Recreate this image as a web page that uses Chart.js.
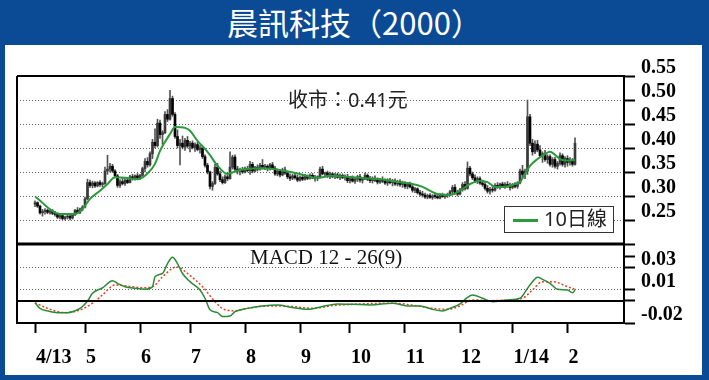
<!DOCTYPE html>
<html>
<head>
<meta charset="utf-8">
<script src="https://cdn.jsdelivr.net/npm/chart.js@4"></script>
<style>
  html, body { margin: 0; padding: 0; }
  body { width: 709px; height: 380px; background: #0b4a94; position: relative; overflow: hidden; font-family: 'Noto Sans', 'Noto Sans CJK TC', sans-serif; }
  #title { position: absolute; left: 0; top: 0; width: 709px; height: 45px; line-height: 44px; text-align: center; color: #fff; font-size: 31px; font-family: 'Noto Sans CJK TC', sans-serif; }
  #panel { position: absolute; left: 5px; top: 45px; width: 697px; height: 330px; background: #fff; }
  #chart { position: absolute; left: 0; top: 0; }
  #closeNote { position: absolute; left: 288px; top: 90px; font-size: 20px; line-height: 1; color: #222; }
  #macdNote { position: absolute; left: 250px; top: 247px; font-family: 'Liberation Serif', serif; font-size: 21px; line-height: 1; color: #111; }
  #legend { position: absolute; left: 504px; top: 206px; width: 108px; height: 25px; border: 1px solid #333; background: #fff; }
  #legend .sw { position: absolute; left: 8px; top: 12px; width: 25px; height: 3px; background: #2a9a3a; }
  #legend .tx { position: absolute; left: 39px; top: 2px; font-size: 20px; line-height: 1; color: #222; }
</style>
</head>
<body>
<div id="title">晨訊科技（2000）</div>
<div id="panel"></div>
<canvas id="chart" width="709" height="380"></canvas>
<div id="closeNote">收市：0.41元</div>
<div id="macdNote">MACD 12 - 26(9)</div>
<div id="legend"><div class="sw"></div><div class="tx">10日線</div></div>
<script>
// daily candles, trading day index 0 = early April 2013
const opens = [
  .283,.286,.279,.265,.268,.270,.266,.269,.264,.262,
  .256,.259,.253,.256,.258,.254,.261,.270,.266,.273,
  .277,.294,.328,.322,.327,.321,.328,.324,.326,.352,
  .356,.362,.352,.342,.322,.330,.326,.333,.328,.340,
  .336,.342,.338,.343,.357,.372,.365,.388,.412,.405,
  .452,.428,.432,.470,.460,.503,.470,.424,.405,.410,
  .402,.416,.404,.410,.401,.407,.397,.400,.382,.364,
  .350,.320,.326,.360,.346,.334,.328,.340,.336,.360,
  .381,.356,.352,.355,.350,.357,.353,.366,.352,.360,
  .356,.364,.360,.362,.357,.365,.358,.346,.352,.344,
  .354,.348,.340,.337,.342,.338,.333,.339,.335,.341,
  .337,.343,.338,.336,.340,.356,.346,.348,.341,.346,
  .340,.344,.339,.343,.338,.341,.332,.336,.331,.335,
  .340,.333,.336,.343,.335,.332,.337,.333,.329,.334,
  .331,.327,.333,.328,.331,.325,.330,.324,.327,.320,
  .325,.319,.312,.315,.307,.304,.302,.298,.301,.297,
  .300,.299,.296,.302,.299,.301,.303,.309,.318,.307,
  .304,.313,.324,.316,.358,.346,.338,.332,.336,.327,
  .324,.316,.310,.314,.312,.322,.320,.325,.321,.324,
  .322,.318,.323,.320,.327,.352,.345,.352,.465,.410,
  .392,.408,.396,.384,.388,.376,.382,.366,.376,.362,
  .368,.384,.366,.378,.370,.374,.366
];
const highs = [
  .290,.288,.281,.272,.274,.273,.272,.272,.268,.265,
  .262,.261,.258,.262,.260,.263,.272,.276,.275,.280,
  .298,.335,.333,.331,.330,.330,.332,.329,.360,.385,
  .368,.366,.355,.345,.334,.338,.336,.337,.343,.345,
  .344,.347,.345,.360,.378,.380,.392,.418,.440,.460,
  .458,.436,.476,.480,.520,.508,.474,.438,.418,.425,
  .420,.424,.414,.415,.411,.412,.405,.402,.386,.368,
  .352,.330,.366,.368,.352,.340,.344,.346,.392,.385,
  .386,.362,.358,.360,.360,.362,.372,.370,.362,.365,
  .368,.376,.366,.365,.368,.370,.362,.356,.355,.358,
  .360,.352,.346,.345,.348,.344,.342,.343,.345,.344,
  .346,.347,.343,.342,.360,.362,.350,.352,.350,.349,
  .347,.348,.346,.346,.344,.345,.340,.342,.338,.343,
  .345,.339,.348,.346,.341,.340,.342,.338,.337,.340,
  .336,.336,.337,.335,.336,.333,.334,.331,.330,.328,
  .329,.322,.318,.317,.312,.310,.306,.304,.305,.303,
  .304,.303,.305,.306,.304,.306,.312,.322,.324,.312,
  .316,.328,.330,.371,.362,.350,.344,.340,.340,.333,
  .330,.322,.318,.320,.326,.328,.327,.329,.328,.330,
  .327,.326,.328,.330,.356,.364,.356,.500,.470,.418,
  .415,.416,.405,.392,.395,.386,.386,.380,.381,.372,
  .390,.388,.382,.384,.380,.378,.421
];
const lows = [
  .278,.276,.262,.258,.262,.263,.262,.261,.258,.253,
  .252,.250,.250,.252,.250,.252,.259,.264,.263,.269,
  .275,.292,.318,.317,.318,.319,.320,.319,.324,.345,
  .350,.349,.338,.318,.318,.323,.322,.326,.327,.333,
  .333,.335,.334,.340,.350,.360,.362,.378,.400,.402,
  .420,.408,.430,.455,.458,.466,.420,.400,.365,.398,
  .395,.400,.392,.398,.393,.394,.389,.378,.360,.346,
  .315,.312,.324,.343,.330,.325,.326,.332,.335,.356,
  .352,.346,.344,.347,.348,.350,.345,.348,.350,.352,
  .354,.356,.355,.352,.354,.356,.343,.342,.340,.342,
  .345,.336,.332,.334,.335,.330,.331,.332,.333,.334,
  .335,.336,.331,.332,.338,.344,.340,.338,.336,.338,
  .336,.337,.334,.336,.333,.328,.327,.329,.326,.330,
  .329,.327,.334,.332,.328,.327,.330,.325,.326,.328,
  .324,.322,.325,.321,.322,.321,.320,.318,.316,.315,
  .317,.308,.307,.304,.300,.298,.295,.294,.295,.293,
  .295,.294,.294,.297,.295,.297,.300,.305,.304,.300,
  .302,.310,.312,.314,.342,.334,.328,.326,.324,.320,
  .312,.306,.304,.308,.310,.316,.314,.318,.316,.318,
  .312,.315,.317,.316,.325,.338,.336,.345,.405,.385,
  .388,.392,.380,.370,.372,.368,.362,.360,.358,.356,
  .364,.362,.360,.362,.364,.362,.364
];
const closes = [
  .286,.279,.265,.268,.270,.266,.269,.264,.262,.256,
  .259,.253,.256,.258,.254,.261,.270,.266,.273,.277,
  .294,.328,.322,.327,.321,.328,.324,.326,.352,.356,
  .362,.352,.342,.322,.330,.326,.333,.328,.340,.336,
  .342,.338,.343,.357,.372,.365,.388,.412,.405,.452,
  .428,.432,.470,.460,.503,.470,.424,.405,.410,.402,
  .416,.404,.410,.401,.407,.397,.400,.382,.364,.350,
  .320,.326,.360,.346,.334,.328,.340,.336,.360,.381,
  .356,.352,.355,.350,.357,.353,.366,.352,.360,.356,
  .364,.360,.362,.357,.365,.358,.346,.352,.344,.354,
  .348,.340,.337,.342,.338,.333,.339,.335,.341,.337,
  .343,.338,.336,.340,.356,.346,.348,.341,.346,.340,
  .344,.339,.343,.338,.341,.332,.336,.331,.335,.340,
  .333,.336,.343,.335,.332,.337,.333,.329,.334,.331,
  .327,.333,.328,.331,.325,.330,.324,.327,.320,.325,
  .319,.312,.315,.307,.304,.302,.298,.301,.297,.300,
  .299,.296,.302,.299,.301,.303,.309,.318,.307,.304,
  .313,.324,.316,.358,.346,.338,.332,.336,.327,.324,
  .316,.310,.314,.312,.322,.320,.325,.321,.324,.322,
  .318,.323,.320,.327,.352,.345,.352,.465,.410,.392,
  .408,.396,.384,.388,.376,.382,.366,.376,.362,.368,
  .384,.366,.378,.370,.374,.366,.410
];

// 10-day average
const maDays = [0,10,16,19,22,26,29,32,36,41,45,48,50,54,56,60,62,65,68,70,73,77,79,82,89,96,101,106,113,118,125,131,138,145,151,155,161,166,170,174,178,181,184,188,192,194,196,198,201,204,206,208,210,213,216];
const maVals = [.299,.2625,.2625,.273,.294,.311,.325,.339,.338,.335,.347,.367,.394,.429,.444,.442,.436,.415,.398,.385,.363,.346,.349,.354,.358,.356,.351,.346,.3375,.342,.340,.3375,.335,.329,.325,.319,.304,.302,.311,.325,.332,.329,.319,.319,.325,.329,.346,.363,.377,.3875,.392,.386,.377,.374,.375];

// MACD 12-26 and its 9-day signal
const macdDays = [0,2,5,9,13,17,19,21,23,27,31,33,36,40,44,47,48,51,53,55,57,59,62,66,68,70,73,75,78,80,85,91,97,103,109,115,121,127,134,143,149,154,159,163,166,170,173,175,179,183,189,194,197,199,201,203,206,209,213,215,216];
const macdVals = [-.0015,-.0067,-.009,-.0106,-.0106,-.008,-.005,0,.007,.012,.0185,.016,.013,.0115,.0106,.013,.022,.025,.034,.0397,.034,.025,.0176,.010,.0025,-.008,-.0106,-.0142,-.0136,-.0097,-.0067,-.0045,-.0036,-.006,-.0076,-.005,-.0027,-.003,-.0036,-.002,-.0045,-.0045,-.0076,-.009,-.0067,-.0027,.0033,.0055,.0025,-.0006,.001,.0025,.0115,.0176,.0215,.0197,.016,.0106,.010,.0076,.010];
const signalDays = [0,5,12,17,23,27,32,37,43,47,51,55,57,61,67,72,76,80,85,93,103,111,119,127,143,153,159,165,170,175,182,190,195,199,203,207,213,216];
const signalVals = [-.0015,-.0067,-.0106,-.009,-.002,.0055,.0145,.0136,.012,.013,.022,.0297,.031,.025,.013,-.0006,-.008,-.0088,-.0067,-.0045,-.005,-.0067,-.0042,-.003,-.002,-.0045,-.0067,-.0076,-.0045,.001,.0003,.001,.0025,.010,.0176,.0176,.013,.0106];

// axis ticks
const monthStarts = [0,20,42,62,84,106,126,148,170,191,213];
const monthLabels = ['4/13','5','6','7','8','9','10','11','12','1/14','2'];
const priceTicks = [0.20,0.25,0.30,0.35,0.40,0.45,0.50,0.55];
const macdTicks = [-0.02,0,0.01,0.03,0.04];
const macdLabels = {'0.03':'0.03','0.01':'0.01','-0.02':'-0.02'};

const serif = "'Liberation Serif', 'Times New Roman', serif";

const wicks = highs.map((h, i) => ({ x: i, y: [lows[i], h] }));
const bodies = opens.map((o, i) => ({ x: i, y: [Math.min(o, closes[i]), Math.max(o, closes[i])] }));
const bodyColors = opens.map((o, i) => closes[i] > o ? '#3a3a3a' : '#000');

// panel frame, divider and MACD zero line
const framePlugin = {
    id: 'frame',
    afterDraw(chart) {
        const { ctx, chartArea } = chart;
        const m = chart.scales.y2;
        ctx.save();
        ctx.strokeStyle = '#000';
        ctx.lineWidth = 2;
        ctx.beginPath();
        ctx.moveTo(chartArea.left, chartArea.top);
        ctx.lineTo(chartArea.right, chartArea.top);
        ctx.moveTo(chartArea.left, chartArea.top);
        ctx.lineTo(chartArea.left, chartArea.bottom);
        const z = Math.round(m.getPixelForValue(0));
        ctx.moveTo(chartArea.left, z);
        ctx.lineTo(chartArea.right, z);
        ctx.stroke();
        ctx.lineWidth = 3;
        ctx.beginPath();
        ctx.moveTo(chartArea.left, m.top);
        ctx.lineTo(chartArea.right, m.top);
        ctx.stroke();
        ctx.restore();
    }
};

new Chart(document.getElementById('chart'), {
    data: {
        datasets: [
            {
                type: 'line', label: '10日線', yAxisID: 'y',
                data: maDays.map((d, i) => ({ x: d, y: maVals[i] })),
                borderColor: '#2a9a3a', borderWidth: 2, pointRadius: 0,
                cubicInterpolationMode: 'monotone'
            },
            {
                type: 'bar', label: 'body', yAxisID: 'y',
                data: bodies, backgroundColor: bodyColors,
                barThickness: 2, minBarLength: 1, grouped: false
            },
            {
                type: 'bar', label: 'wick', yAxisID: 'y',
                data: wicks, backgroundColor: '#555',
                barThickness: 1, grouped: false
            },
            {
                type: 'line', label: 'MACD', yAxisID: 'y2',
                data: macdDays.map((d, i) => ({ x: d, y: macdVals[i] })),
                borderColor: '#2a8a35', borderWidth: 1.5, pointRadius: 0,
                cubicInterpolationMode: 'monotone'
            },
            {
                type: 'line', label: 'signal', yAxisID: 'y2',
                data: signalDays.map((d, i) => ({ x: d, y: signalVals[i] })),
                borderColor: '#e8401c', borderWidth: 1.5, borderDash: [2, 2], pointRadius: 0,
                cubicInterpolationMode: 'monotone'
            }
        ]
    },
    options: {
        responsive: false,
        animation: false,
        devicePixelRatio: 1,
        layout: { padding: { left: 17, top: 76, right: 0, bottom: 0 } },
        plugins: { legend: { display: false }, tooltip: { enabled: false } },
        scales: {
            x: {
                type: 'linear', min: -7.2, max: 235.6, offset: false,
                afterBuildTicks: s => { s.ticks = monthStarts.map(v => ({ value: v })); },
                afterFit: s => { s.height = 57; },
                grid: { offset: false, drawOnChartArea: false, drawTicks: true, tickLength: 10, tickWidth: 2, tickColor: '#000' },
                border: { display: true, color: '#000', width: 2 },
                ticks: {
                    autoSkip: false, maxRotation: 0, align: 'start', padding: 13, labelOffset: 1, color: '#000',
                    font: { family: serif, size: 20, weight: 'bold' },
                    callback: (v, i) => monthLabels[i]
                }
            },
            y: {
                type: 'linear', position: 'right', stack: 'panels', stackWeight: 168,
                min: 0.20, max: 0.55,
                afterBuildTicks: s => { s.ticks = priceTicks.map(v => ({ value: v })); },
                afterFit: s => { s.width = 85; },
                grid: {
                    color: c => (c.tick && c.tick.value > 0.21 && c.tick.value < 0.54) ? '#666' : 'rgba(0,0,0,0)',
                    lineWidth: 1, tickLength: 11, tickWidth: 2, tickColor: '#000'
                },
                border: { display: true, color: '#000', width: 2, dash: [1, 2] },
                ticks: {
                    autoSkip: false, padding: 6, labelOffset: -8, color: '#000',
                    font: { family: serif, size: 20, weight: 'bold' },
                    callback: v => v < 0.21 ? '' : v.toFixed(2)
                }
            },
            y2: {
                type: 'linear', position: 'right', stack: 'panels', stackWeight: 79,
                min: -0.02, max: 0.0518,
                afterBuildTicks: s => { s.ticks = macdTicks.map(v => ({ value: v })); },
                afterFit: s => { s.width = 85; },
                grid: {
                    color: c => (c.tick && (c.tick.value === 0.01 || c.tick.value === 0.03)) ? '#666' : 'rgba(0,0,0,0)',
                    lineWidth: 1, tickLength: 11, tickWidth: 2, tickColor: '#000'
                },
                border: { display: true, color: '#000', width: 2, dash: [1, 2] },
                ticks: {
                    autoSkip: false, padding: 6, labelOffset: -8, color: '#000',
                    font: { family: serif, size: 20, weight: 'bold' },
                    callback: v => macdLabels[String(v)] || ''
                }
            }
        }
    },
    plugins: [framePlugin]
});
</script>
</body>
</html>
